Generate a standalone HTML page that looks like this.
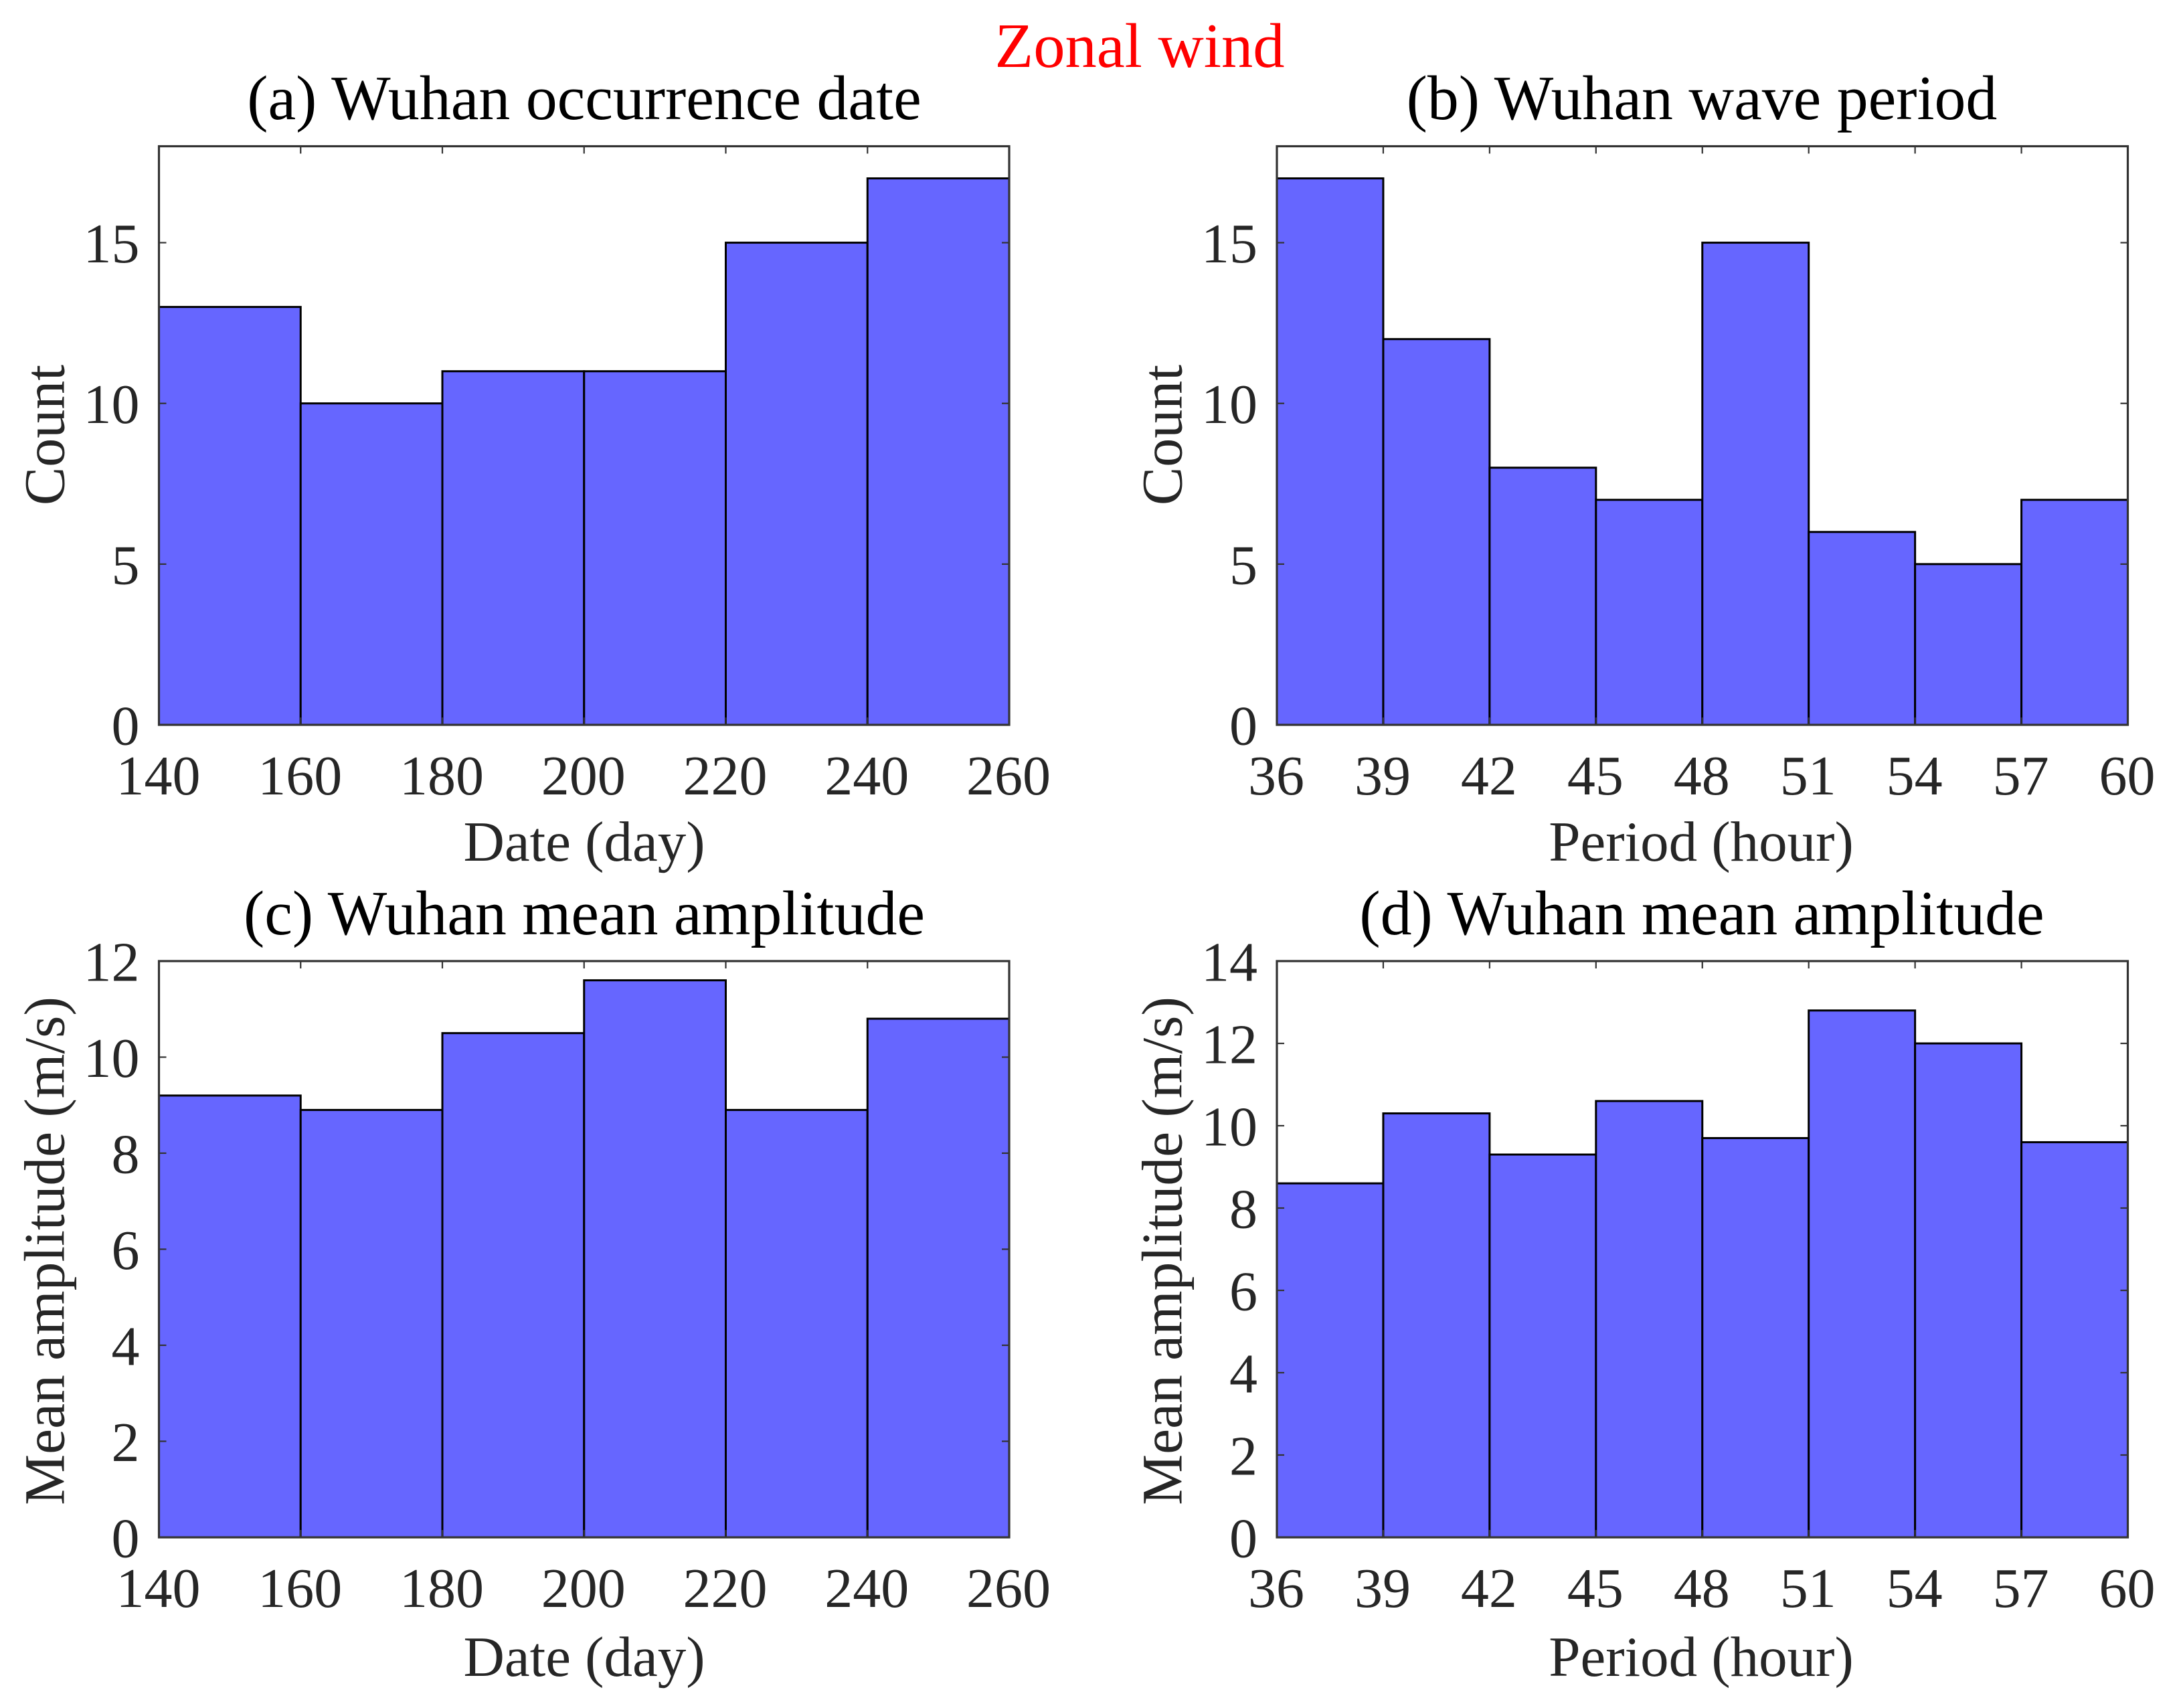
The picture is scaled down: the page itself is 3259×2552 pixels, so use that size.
<!DOCTYPE html>
<html lang="en">
<head>
<meta charset="utf-8">
<title>Zonal wind</title>
<style>
html,body{margin:0;padding:0;background:#fff;}
svg{display:block;}
text{font-family:"Liberation Serif",serif;}
.title{font-size:93.8px;fill:#000;text-anchor:middle;}
.label{font-size:85px;fill:#262626;text-anchor:middle;}
.tick{font-size:84px;fill:#262626;}
</style>
</head>
<body>
<svg id="fig" xmlns="http://www.w3.org/2000/svg" width="3259" height="2552" viewBox="0 0 3259 2552">
<rect x="0" y="0" width="3259" height="2552" fill="#ffffff"/>
<text class="title" x="1703" y="100" style="fill:#ff0000;font-size:94.5px">Zonal wind</text>

<g id="panel-a">
<text class="title" x="873" y="178">(a) Wuhan occurrence date</text>
<text class="label" x="873" y="1286">Date (day)</text>
<text class="label" style="font-size:86px" transform="translate(95.5 650) rotate(-90)">Count</text>
</g>
<g id="panel-b">
<text class="title" x="2543" y="178">(b) Wuhan wave period</text>
<text class="label" x="2542" y="1286">Period (hour)</text>
<text class="label" style="font-size:86px" transform="translate(1765.5 650) rotate(-90)">Count</text>
</g>
<g id="panel-c">
<text class="title" x="873" y="1396">(c) Wuhan mean amplitude</text>
<text class="label" x="873" y="2504">Date (day)</text>
<text class="label" style="font-size:85.5px" transform="translate(95.5 1869) rotate(-90)">Mean amplitude (m/s)</text>
</g>
<g id="panel-d">
<text class="title" x="2543" y="1396">(d) Wuhan mean amplitude</text>
<text class="label" x="2542" y="2504">Period (hour)</text>
<text class="label" style="font-size:85.5px" transform="translate(1765.5 1869) rotate(-90)">Mean amplitude (m/s)</text>
</g>
</svg>
<script>
// Bin edges (x axis data)
var dateEdges = [140, 160, 180, 200, 220, 240, 260];
var periodEdges = [36, 39, 42, 45, 48, 51, 54, 57, 60];

// Series values
var occurrenceCounts = [13, 10, 11, 11, 15, 17];
var periodCounts = [17, 12, 8, 7, 15, 6, 5, 7];
var dateAmplitudes = [9.2, 8.9, 10.5, 11.6, 8.9, 10.8];
var periodAmplitudes = [8.6, 10.3, 9.3, 10.6, 9.7, 12.8, 12, 9.6];

// Tick labels
var dateTicks = [140, 160, 180, 200, 220, 240, 260];
var periodTicks = [36, 39, 42, 45, 48, 51, 54, 57, 60];
var countTicks = [0, 5, 10, 15];
var amplitudeTicksC = [0, 2, 4, 6, 8, 10, 12];
var amplitudeTicksD = [0, 2, 4, 6, 8, 10, 12, 14];

// Y axis limits
var countMax = 18;
var amplitudeMaxC = 12;
var amplitudeMaxD = 14;

var SVGNS = 'http://www.w3.org/2000/svg';

function make(tag, attrs, parent) {
  var node = document.createElementNS(SVGNS, tag);
  for (var k in attrs) { node.setAttribute(k, attrs[k]); }
  parent.appendChild(node);
  return node;
}

function drawPanel(id, left, right, top, bottom, edges, values, xTicks, yTicks, yMax) {
  var g = document.getElementById(id);
  var xMin = edges[0];
  var xMax = edges[edges.length - 1];
  function xScale(v) { return left + (v - xMin) / (xMax - xMin) * (right - left); }
  function yScale(v) { return bottom - v / yMax * (bottom - top); }

  values.forEach(function (v, i) {
    var x0 = xScale(edges[i]);
    var x1 = xScale(edges[i + 1]);
    var bar = make('rect', {
      x: x0, y: yScale(v), width: x1 - x0, height: bottom - yScale(v),
      fill: '#6666ff', stroke: '#000000', 'stroke-width': 3
    }, g);
    
    
  });

  var frame = make('rect', {
    x: left, y: top, width: right - left, height: bottom - top,
    fill: 'none', stroke: '#333333', 'stroke-width': 3.2
  }, g);
  
  

  var tickLen = 11;
  xTicks.forEach(function (t) {
    var x = xScale(t);
    if (t !== xMin && t !== xMax) {
      var tb = make('line', { x1: x, x2: x, y1: bottom, y2: bottom - tickLen, stroke: '#333333', 'stroke-width': 2.2 }, g);
      
      
      var tt = make('line', { x1: x, x2: x, y1: top, y2: top + tickLen, stroke: '#333333', 'stroke-width': 2.2 }, g);
      
      
    }
    var label = make('text', { x: x - 1, y: bottom + 104, 'class': 'tick', 'text-anchor': 'middle' }, g);
    label.textContent = String(t);
    
    
  });

  yTicks.forEach(function (t) {
    var y = yScale(t);
    if (t !== 0 && t !== yMax) {
      var tl = make('line', { x1: left, x2: left + tickLen, y1: y, y2: y, stroke: '#333333', 'stroke-width': 2.2 }, g);
      
      
      var tr = make('line', { x1: right, x2: right - tickLen, y1: y, y2: y, stroke: '#333333', 'stroke-width': 2.2 }, g);
      
      
    }
    var label = make('text', { x: left - 29, y: y + 29.5, 'class': 'tick', 'text-anchor': 'end' }, g);
    label.textContent = String(t);
    
    
  });
}

drawPanel('panel-a', 237.5, 1508, 218.5, 1083, dateEdges, occurrenceCounts, dateTicks, countTicks, countMax);
drawPanel('panel-b', 1908, 3179.5, 218.5, 1083, periodEdges, periodCounts, periodTicks, countTicks, countMax);
drawPanel('panel-c', 237.5, 1508, 1436, 2297, dateEdges, dateAmplitudes, dateTicks, amplitudeTicksC, amplitudeMaxC);
drawPanel('panel-d', 1908, 3179.5, 1436, 2297, periodEdges, periodAmplitudes, periodTicks, amplitudeTicksD, amplitudeMaxD);
</script>
</body>
</html>
